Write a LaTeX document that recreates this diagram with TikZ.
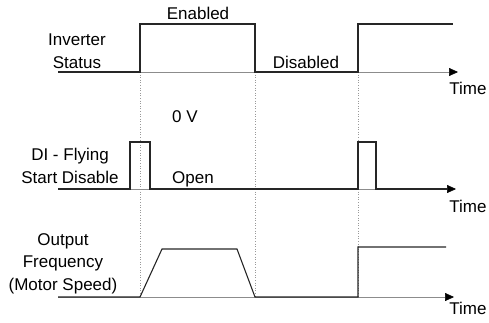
\documentclass[tikz,border=0pt]{standalone}
\usepackage{fontspec}
\setmainfont{Liberation Sans}
\usetikzlibrary{arrows.meta, positioning}
\tikzset{
	signal/.style={
			draw=black!85,
			line width=1.1pt,
			line join=miter
		},
	axisline/.style={
			draw=black!45,
			line width=0.6pt,
			-{Triangle[color=black, length=9pt, width=8pt]}
		},
	guideline/.style={
			draw=black!40,
			line width=0.6pt,
			dotted
		},
	labeltext/.style={
			font=\fontsize{17}{22.5}\selectfont,
			align=center,
			inner sep=0pt,
			anchor=base
		}
}

\begin{document}
\begin{tikzpicture}[x=1pt, y=-1pt]

              \useasboundingbox (0,0) rectangle (489,322);

              \coordinate (a1s) at (58,72);
              \coordinate (a1e) at (458,72);
              \coordinate (a2s) at (58,189);
              \coordinate (a2e) at (456,189);
              \coordinate (a3s) at (58,297);
              \coordinate (a3e) at (454,297);

              \draw[guideline] (140,72) -- (140,297);
              \draw[guideline] (255,72) -- (255,297);
              \draw[guideline] (358,72) -- (358,297);

              \draw[axisline] (a1s) -- (a1e);
              \draw[axisline] (a2s) -- (a2e);
              \draw[axisline] (a3s) -- (a3e);

              \draw[signal] (a1s) -- (140,72) -- (140,24) -- (255,24) -- (255,72)
                            -- (358,72) -- (358,24) -- (453,24);
              \draw[signal] (a2s) -- (130,189) -- (130,142) -- (150,142) -- (150,189)
                            -- (358,189) -- (358,142) -- (376,142) -- (376,189) -- (447,189);
              \draw[signal] (a3s) -- (140,297) -- (162,249) -- (237,249) -- (255,297)
                            -- (358,297) -- (358,247) -- (446,247);

              \node[labeltext] (inv) at (77,68) {Inverter\\Status};
              \node[labeltext] (en) at (198,19) {Enabled};
              \node[labeltext] (dis) at (306,68) {Disabled};
              \node[labeltext] (t1) at (468,94) {Time};

              \node[labeltext] (di) at (70,183) {DI - Flying\\Start Disable};
              \node[labeltext] (zv) at (185,122) {0 V};
              \node[labeltext] (op) at (193,183) {Open};
              \node[labeltext] (t2) at (468,212) {Time};

              \node[labeltext] (outf) at (63,290) {Output\\Frequency\\(Motor Speed)};
              \node[labeltext] (t3) at (468,314) {Time};

\end{tikzpicture}
\end{document}
